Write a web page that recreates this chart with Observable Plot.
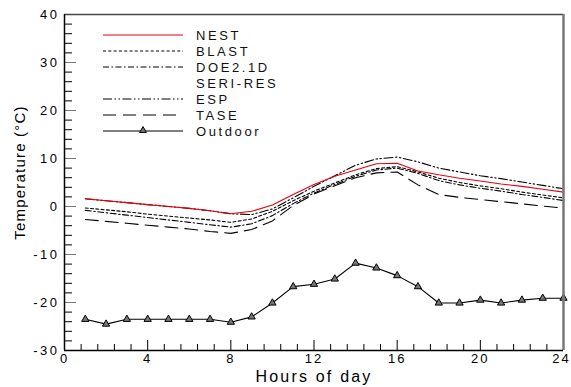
<!DOCTYPE html>
<html><head><meta charset="utf-8">
<script src="https://cdn.jsdelivr.net/npm/d3@7"></script>
<script src="https://cdn.jsdelivr.net/npm/@observablehq/plot@0.6"></script>
<style>
body{margin:0;background:#fff;}
#chart svg{font-family:"Liberation Sans",Arial,sans-serif;}
</style></head><body><div id="chart"></div>
<script>
const hours   = [1,2,3,4,5,6,7,8,9,10,11,12,13,14,15,16,17,18,19,20,21,22,23,24];
const nest    = [1.6,1.2,0.8,0.4,0.0,-0.4,-0.9,-1.5,-1.0,0.3,2.5,4.6,6.3,7.6,8.9,9.0,7.4,6.6,5.9,5.3,4.7,4.2,3.6,3.0];
const blast   = [-0.3,-0.7,-1.1,-1.6,-2.0,-2.4,-2.8,-3.3,-2.6,-1.0,1.2,3.2,4.9,6.6,7.9,8.3,7.2,5.9,5.0,4.3,3.7,3.0,2.4,1.8];
const doe21d  = [-0.8,-1.3,-1.8,-2.3,-2.8,-3.3,-3.8,-4.3,-3.6,-1.9,0.6,2.8,4.6,6.3,7.6,8.0,6.9,5.4,4.5,3.8,3.2,2.5,1.9,1.25];
const esp     = [1.6,1.2,0.8,0.4,0.0,-0.4,-0.9,-1.5,-1.7,-0.5,1.8,4.2,6.4,8.6,9.9,10.3,9.3,8.0,7.2,6.4,5.8,5.1,4.4,3.7];
const tase    = [-2.7,-3.1,-3.5,-3.9,-4.3,-4.7,-5.2,-5.6,-4.8,-3.0,0.2,2.6,4.3,6.0,7.0,7.2,4.5,2.5,1.9,1.45,1.0,0.55,0.1,-0.35];
const outdoor = [-23.5,-24.5,-23.5,-23.5,-23.5,-23.5,-23.5,-24.1,-23.0,-20.1,-16.7,-16.2,-15.1,-11.8,-12.8,-14.4,-16.7,-20.1,-20.1,-19.5,-20.1,-19.5,-19.1,-19.1];

const xMajor = [0,4,8,12,16,20,24];
const xMinor = [0.8,1.6,2.4,3.2,4.8,5.6,6.4,7.2,8.8,9.6,10.4,11.2,12.8,13.6,14.4,15.2,16.8,17.6,18.4,19.2,20.8,21.6,22.4,23.2];
const yMajor = [-30,-20,-10,0,10,20,30,40];
const yMinor = [-28,-26,-24,-22,-18,-16,-14,-12,-8,-6,-4,-2,2,4,6,8,12,14,16,18,22,24,26,28,32,34,36,38];

const series = [
  {name:"NEST", values:nest, color:"#e8000b", dash:null},
  {name:"BLAST", values:blast, color:"#000", dash:"3,2.3"},
  {name:"DOE2.1D", values:doe21d, color:"#000", dash:"6,2.5,1.5,2.5"},
  {name:"SERI-RES", values:null, color:"none", dash:null},
  {name:"ESP", values:esp, color:"#000", dash:"9,2.5,1.5,2.5,1.5,2.5"},
  {name:"TASE", values:tase, color:"#000", dash:"13,7"},
  {name:"Outdoor", values:outdoor, color:"#000", dash:null, marker:true}
];

const W = 571, H = 387, mL = 64, mR = 8, mT = 14, mB = 37;
const pw = W - mL - mR, ph = H - mT - mB;

const lineMarks = series.filter(s => s.values && !s.marker).slice().reverse().map(s =>
  Plot.line(hours.map((h,i)=>({h, v:s.values[i]})), {x:"h", y:"v", stroke:s.color, strokeWidth:1.1, strokeDasharray:s.dash})
);
const outData = hours.map((h,i)=>({h, v:outdoor[i]}));

const chart = Plot.plot({
  width: W, height: H,
  marginLeft: mL, marginRight: mR, marginTop: mT, marginBottom: mB,
  style: {fontFamily: '"Liberation Sans", Arial, sans-serif', fontSize: "13px", color:"#000", background:"#fff"},
  x: {domain:[0,24]},
  y: {domain:[-30,40]},
  marks: [
    Plot.axisX({ticks: xMajor, tickSize: 0, tickPadding: 3, label: null, fontSize: 13, tickFormat: d => String(d)}),
    Plot.axisY({ticks: yMajor, tickSize: 0, tickPadding: 5, label: null, fontSize: 13, tickFormat: d => String(d)}),
    Plot.tickY(yMinor, {y: d=>d, stroke:"#000", insetRight: pw - 8}),
    Plot.tickY(yMajor, {y: d=>d, stroke:"#777", insetRight: pw - 12}),
    Plot.tickX(xMinor, {x: d=>d, stroke:"#000", insetTop: ph - 6}),
    Plot.tickX(xMajor, {x: d=>d, stroke:"#000", insetTop: ph - 10}),
    ...lineMarks,
    Plot.line(outData, {x:"h", y:"v", stroke:"#000", strokeWidth:1.1}),
    Plot.dot(outData, {x:"h", y:"v", symbol:"triangle", r:2.7, fill:"#777", stroke:"#000", strokeWidth:1}),
    Plot.ruleY([40], {stroke:"#444", strokeWidth:1.5}),
    Plot.ruleX([24], {stroke:"#777", strokeWidth:2.5}),
    Plot.ruleX([0], {stroke:"#000", strokeWidth:1.5}),
    Plot.ruleY([-30], {stroke:"#000", strokeWidth:1.5}),
    Plot.text(["Hours of day"], {frameAnchor:"bottom", dy: 31, fontSize:16, fill:"#000"}),
    Plot.text(["Temperature (°C)"], {frameAnchor:"left", textAnchor:"middle", dx:-44, dy:-10, rotate:-90, fontSize:15, fill:"#000"})
  ]
});

const svg = d3.select(chart);
svg.selectAll('g[aria-label="x-axis tick label"] text').style("letter-spacing","2px").attr("dx", function(){ return d3.select(this).text()==="24" ? "-2" : null; });
svg.selectAll('g[aria-label="y-axis tick label"] text').style("letter-spacing","2.5px");
svg.selectAll('g[aria-label="text"] text').each(function(){
  const t = d3.select(this);
  if (t.text() === "Hours of day") t.style("letter-spacing","2.2px");
  else t.style("letter-spacing","1.2px");
});

// legend (inside plot, upper left)
const lg = svg.append("g").attr("class","legend").attr("text-anchor","start");
const lx1 = 103, lx2 = 183, tx = 196, ly0 = 35, dyRow = 16;
series.forEach((s,i)=>{
  const y = ly0 + i*dyRow;
  if (s.values) {
    lg.append("line").attr("x1",lx1).attr("x2",lx2).attr("y1",y).attr("y2",y)
      .attr("stroke",s.color).attr("stroke-width",1.1)
      .attr("stroke-dasharray", s.dash);
  }
  if (s.marker) {
    const sym = d3.symbol(d3.symbolTriangle, 20)();
    lg.append("path").attr("d",sym).attr("transform",`translate(143,${y-0.5})`)
      .attr("fill","#777").attr("stroke","#000");
  }
  lg.append("text").attr("x",tx).attr("y",y).attr("dy","0.35em").attr("text-anchor","start")
    .attr("font-size",13).attr("fill","#111").style("letter-spacing","2.6px").text(s.name);
});

document.getElementById("chart").appendChild(chart);
</script></body></html>
